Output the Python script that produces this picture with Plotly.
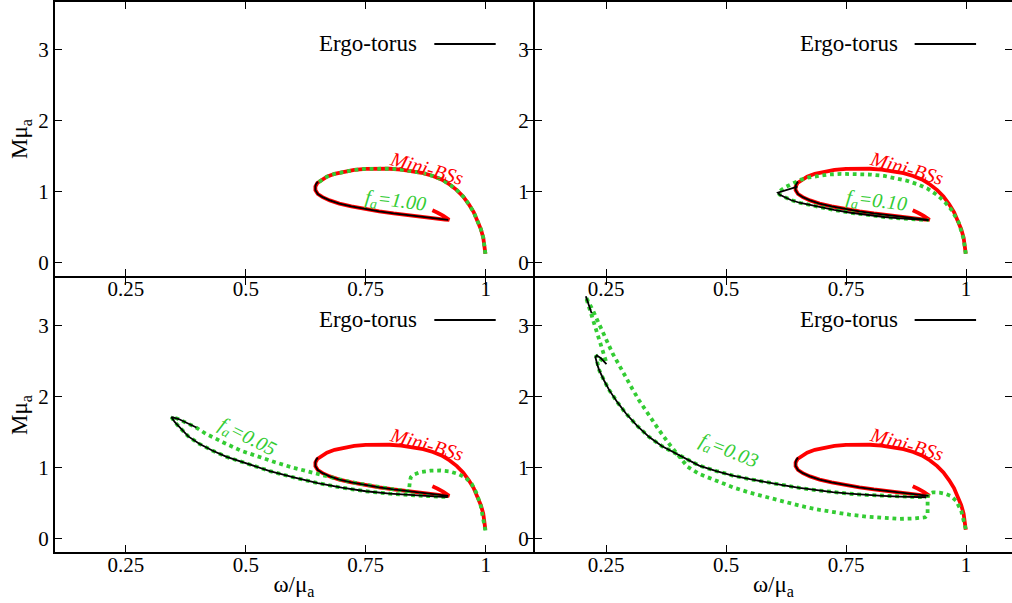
import plotly.graph_objects as go

# ---------------- data ----------------
# Mini boson star branch (same in every panel)
mini_w = [0.9995, 0.998, 0.995, 0.990, 0.983, 0.975, 0.965, 0.953, 0.940, 0.925, 0.908, 0.890,
          0.870, 0.848, 0.824, 0.800, 0.775, 0.750, 0.726, 0.704, 0.685, 0.669, 0.657, 0.649,
          0.645, 0.645, 0.650, 0.660, 0.675, 0.695, 0.720, 0.748, 0.778, 0.808, 0.838, 0.868,
          0.896, 0.915, 0.924, 0.921, 0.912, 0.900, 0.889]
mini_M = [0.12, 0.24, 0.35, 0.47, 0.60, 0.71, 0.82, 0.93, 1.02, 1.10, 1.17, 1.22,
          1.26, 1.29, 1.31, 1.322, 1.326, 1.321, 1.305, 1.28, 1.25, 1.21, 1.165, 1.12,
          1.07, 1.02, 0.965, 0.92, 0.875, 0.83, 0.79, 0.752, 0.72, 0.69, 0.663, 0.638,
          0.617, 0.603, 0.600, 0.618, 0.655, 0.70, 0.735]

# Ergo-torus part of the mini-BS branch
mini_ergo_w = [0.650, 0.646, 0.645, 0.645, 0.650, 0.660, 0.675, 0.695, 0.720, 0.748, 0.778,
               0.808, 0.838, 0.868, 0.896, 0.915, 0.922]
mini_ergo_M = [1.14, 1.10, 1.07, 1.02, 0.965, 0.92, 0.875, 0.83, 0.79, 0.752, 0.72,
               0.69, 0.663, 0.638, 0.617, 0.603, 0.598]

# Axion boson stars, f_a = 1.00
fa100_w = [0.9995, 0.998, 0.995, 0.990, 0.983, 0.975, 0.965, 0.953, 0.940, 0.925, 0.908, 0.890,
           0.870, 0.848, 0.824, 0.800, 0.775, 0.750, 0.726, 0.704, 0.685, 0.669, 0.657, 0.649]
fa100_M = [0.12, 0.24, 0.35, 0.47, 0.60, 0.71, 0.82, 0.93, 1.02, 1.10, 1.17, 1.22,
           1.26, 1.29, 1.31, 1.322, 1.326, 1.321, 1.305, 1.28, 1.25, 1.21, 1.165, 1.12]
ergo100_w = []
ergo100_M = []

# f_a = 0.10
fa010_w = [0.9995, 0.995, 0.985, 0.970, 0.955, 0.940, 0.920, 0.900, 0.878, 0.855, 0.830, 0.800,
           0.770, 0.740, 0.712, 0.690, 0.670, 0.655, 0.640, 0.626, 0.615, 0.608, 0.612, 0.620,
           0.635, 0.655, 0.690, 0.725, 0.760, 0.794, 0.830, 0.863, 0.895, 0.922]
fa010_M = [0.12, 0.33, 0.56, 0.74, 0.86, 0.95, 1.04, 1.10, 1.15, 1.19, 1.22, 1.24,
           1.25, 1.25, 1.24, 1.22, 1.195, 1.165, 1.12, 1.07, 1.02, 0.985, 0.955, 0.925,
           0.88, 0.838, 0.785, 0.74, 0.70, 0.668, 0.64, 0.62, 0.605, 0.595]
ergo010_w = [0.649, 0.630, 0.608, 0.612, 0.620, 0.635, 0.655, 0.690, 0.725, 0.760, 0.794,
             0.830, 0.863, 0.895, 0.922]
ergo010_M = [1.068, 1.03, 0.985, 0.955, 0.925, 0.88, 0.838, 0.785, 0.74, 0.70, 0.668,
             0.64, 0.62, 0.605, 0.595]

# f_a = 0.05
fa005_w = [0.9995, 0.995, 0.989, 0.980, 0.971, 0.958, 0.942, 0.925, 0.906, 0.885, 0.863, 0.850,
           0.844, 0.842, 0.841, 0.840, 0.810, 0.777, 0.741, 0.705, 0.669, 0.633, 0.597, 0.561,
           0.525, 0.489, 0.453, 0.417, 0.395, 0.375, 0.358, 0.347, 0.345, 0.352, 0.365, 0.380,
           0.403, 0.430, 0.460, 0.503, 0.550, 0.600, 0.650, 0.700, 0.750, 0.800, 0.850, 0.900,
           0.921]
fa005_M = [0.11, 0.30, 0.486, 0.65, 0.77, 0.86, 0.91, 0.945, 0.958, 0.955, 0.934, 0.90,
           0.863, 0.80, 0.73, 0.665, 0.69, 0.722, 0.768, 0.816, 0.873, 0.934, 1.00, 1.075,
           1.155, 1.24, 1.355, 1.476, 1.57, 1.64, 1.69, 1.71, 1.712, 1.64, 1.54, 1.44,
           1.335, 1.24, 1.15, 1.05, 0.95, 0.86, 0.78, 0.715, 0.665, 0.63, 0.605, 0.588,
           0.583]
ergo005_w = [0.397, 0.380, 0.360, 0.348, 0.345, 0.352, 0.365, 0.380, 0.403, 0.430, 0.460,
             0.503, 0.550, 0.600, 0.650, 0.700, 0.750, 0.800, 0.850, 0.900, 0.921]
ergo005_M = [1.565, 1.625, 1.685, 1.71, 1.712, 1.64, 1.54, 1.44, 1.335, 1.24, 1.15,
             1.05, 0.95, 0.86, 0.78, 0.715, 0.665, 0.63, 0.605, 0.588, 0.583]

# f_a = 0.03
fa003_w = [0.9995, 0.995, 0.990, 0.979, 0.968, 0.958, 0.945, 0.931, 0.922, 0.920, 0.920, 0.920,
           0.915, 0.890, 0.861, 0.826, 0.792, 0.757, 0.722, 0.688, 0.653, 0.618, 0.583, 0.549,
           0.514, 0.479, 0.444, 0.420, 0.403, 0.382, 0.361, 0.340, 0.319, 0.305, 0.292, 0.278,
           0.264, 0.250, 0.236, 0.222, 0.208, 0.213, 0.226, 0.238, 0.250, 0.245, 0.229, 0.232,
           0.236, 0.246, 0.257, 0.274, 0.292, 0.315, 0.340, 0.367, 0.396, 0.420, 0.444, 0.480,
           0.514, 0.550, 0.583, 0.618, 0.653, 0.688, 0.722, 0.757, 0.792, 0.826, 0.861, 0.890,
           0.917]
fa003_M = [0.13, 0.28, 0.39, 0.533, 0.60, 0.627, 0.645, 0.65, 0.63, 0.58, 0.45, 0.33,
           0.297, 0.28, 0.274, 0.285, 0.307, 0.335, 0.368, 0.41, 0.462, 0.52, 0.58, 0.645,
           0.722, 0.81, 0.91, 1.01, 1.146, 1.33, 1.524, 1.73, 1.948, 2.11, 2.278, 2.44,
           2.608, 2.82, 3.033, 3.23, 3.41, 3.30, 3.05, 2.78, 2.50, 2.50, 2.585, 2.48,
           2.373, 2.23, 2.09, 1.92, 1.76, 1.59, 1.43, 1.30, 1.193, 1.11, 1.028, 0.95,
           0.887, 0.835, 0.792, 0.75, 0.712, 0.68, 0.651, 0.63, 0.613, 0.60, 0.59, 0.585,
           0.58]
ergo003_w = [0.208, 0.214, 0.220, None, 0.251, 0.240, 0.231, 0.228, 0.232, 0.236, 0.246,
             0.257, 0.274, 0.292, 0.315, 0.340, 0.367, 0.396, 0.420, 0.444, 0.480, 0.514,
             0.550, 0.583, 0.618, 0.653, 0.688, 0.722, 0.757, 0.792, 0.826, 0.861, 0.890,
             0.917]
ergo003_M = [3.42, 3.30, 3.18, None, 2.46, 2.54, 2.585, 2.56, 2.45, 2.373, 2.23,
             2.09, 1.92, 1.76, 1.59, 1.43, 1.30, 1.193, 1.11, 1.028, 0.95, 0.887,
             0.835, 0.792, 0.75, 0.712, 0.68, 0.651, 0.63, 0.613, 0.60, 0.59, 0.585,
             0.58]

panel_labels = ["1.00", "0.10", "0.05", "0.03"]
axion_w = [fa100_w, fa010_w, fa005_w, fa003_w]
axion_M = [fa100_M, fa010_M, fa005_M, fa003_M]
ergo_w = [ergo100_w, ergo010_w, ergo005_w, ergo003_w]
ergo_M = [ergo100_M, ergo010_M, ergo005_M, ergo003_M]
# label anchor (omega, M) and angle for each f_a label
fa_label_pos = [(0.813, 0.86, 7), (0.813, 0.86, 7), (0.503, 1.43, 27), (0.506, 1.22, 22)]

x_ticks = [0.25, 0.5, 0.75, 1]
x_ticktext = ["0.25", "0.5", "0.75", "1"]
y_ticks = [0, 1, 2, 3]

# ---------------- figure ----------------
RED = "#ff0000"
GREEN = "#33cc33"
W, H = 1012, 603
SERIF = "Liberation Serif"
LW = 2  # frame line width (integer -> crisp, coinciding shared borders)

fig = go.Figure()

for i in range(4):
    xa = "x" if i == 0 else f"x{i+1}"
    ya = "y" if i == 0 else f"y{i+1}"
    fig.add_trace(go.Scatter(x=mini_w, y=mini_M, mode="lines", xaxis=xa, yaxis=ya,
                             line=dict(color=RED, width=3.8), showlegend=False, hoverinfo="skip"))
    fig.add_trace(go.Scatter(x=axion_w[i], y=axion_M[i], mode="lines", xaxis=xa, yaxis=ya,
                             line=dict(color=GREEN, width=3.8, dash="dot"),
                             showlegend=False, hoverinfo="skip"))
    fig.add_trace(go.Scatter(x=mini_ergo_w, y=mini_ergo_M, mode="lines", xaxis=xa, yaxis=ya,
                             line=dict(color="black", width=1.8), showlegend=False, hoverinfo="skip"))
    if ergo_w[i]:
        fig.add_trace(go.Scatter(x=ergo_w[i], y=ergo_M[i], mode="lines", xaxis=xa, yaxis=ya,
                                 line=dict(color="black", width=1.8), connectgaps=False,
                                 showlegend=False, hoverinfo="skip"))

# panel geometry in pixels: frame-line centres at x = 54, 534 ; y = 1, 277, 553
h = LW / 2
left_px = (54 + h, 534 - h)
right_px = (534 + h, W)
top_px = (1 + h, 277 - h)
bot_px = (277 + h, 553 - h)


def xdom(p):
    return [p[0] / W, p[1] / W]


def ydom(p):
    return [1 - p[1] / H, 1 - p[0] / H]


# pixel scales (from the tick marks of the reference)
def xrange_for(p, x0_px, ppu):
    return [0.1 + (p[0] - x0_px) / ppu, 0.1 + (p[1] - x0_px) / ppu]


def yrange_for(p, zero_px, ppu):
    return [(zero_px - p[1]) / ppu, (zero_px - p[0]) / ppu]


panels = [
    (left_px, top_px, xrange_for(left_px, 54, 479.6), yrange_for(top_px, 262.3, 70.77)),
    (right_px, top_px, xrange_for(right_px, 534, 480.0), yrange_for(top_px, 262.3, 70.77)),
    (left_px, bot_px, xrange_for(left_px, 54, 479.6), yrange_for(bot_px, 538.3, 70.77)),
    (right_px, bot_px, xrange_for(right_px, 534, 480.0), yrange_for(bot_px, 538.3, 70.77)),
]

axis_common = dict(showline=True, linecolor="black", linewidth=LW, mirror="ticks",
                   ticks="inside", ticklen=7, tickwidth=1.2, tickcolor="black",
                   showgrid=False, zeroline=False, automargin=False,
                   tickfont=dict(family=SERIF, size=21, color="black"))

title_font = dict(family=SERIF, size=23, color="black")

layout = dict(width=W, height=H, margin=dict(l=0, r=0, t=0, b=0, pad=0),
              paper_bgcolor="white", plot_bgcolor="white", showlegend=False)

for i, (px_x, px_y, xr, yr) in enumerate(panels):
    xk = "xaxis" if i == 0 else f"xaxis{i+1}"
    yk = "yaxis" if i == 0 else f"yaxis{i+1}"
    xa = dict(axis_common, domain=xdom(px_x), range=xr, tickvals=x_ticks, ticktext=x_ticktext,
              anchor="y" if i == 0 else f"y{i+1}", ticklabelstandoff=-7)
    ya = dict(axis_common, domain=ydom(px_y), range=yr, tickvals=y_ticks,
              anchor="x" if i == 0 else f"x{i+1}")
    if i >= 2:
        xa["title"] = dict(text="ω/μ<sub>a</sub>", font=title_font, standoff=0)
    if i in (0, 2):
        ya["title"] = dict(text="Mμ<sub>a</sub>", font=title_font, standoff=4)
    layout[xk] = xa
    layout[yk] = ya

fig.update_layout(**layout)

annotations = []
shapes = []
for i in range(4):
    xr = "x" if i == 0 else f"x{i+1}"
    yr = "y" if i == 0 else f"y{i+1}"
    # legend entry
    annotations.append(dict(x=0.862, y=3.085, xref=xr, yref=yr, text="Ergo-torus",
                            showarrow=False, xanchor="right", yanchor="middle",
                            font=dict(family=SERIF, size=23, color="black")))
    shapes.append(dict(type="line", xref=xr, yref=yr, x0=0.893, x1=1.021, y0=3.085, y1=3.085,
                       line=dict(color="black", width=2)))
    # Mini-BSs label
    annotations.append(dict(x=0.877, y=1.33, xref=xr, yref=yr, text="<i>Mini-BSs</i>",
                            showarrow=False, textangle=16,
                            font=dict(family=SERIF, size=20, color=RED)))
    lx, ly, ang = fa_label_pos[i]
    annotations.append(dict(x=lx, y=ly, xref=xr, yref=yr,
                            text=f"<i>f<sub>a</sub>={panel_labels[i]}</i>",
                            showarrow=False, textangle=ang,
                            font=dict(family=SERIF, size=20, color=GREEN)))

fig.update_layout(annotations=annotations, shapes=shapes)
fig.write_html("out.html", config={"displayModeBar": False},
               post_script="document.body.style.margin='0px';document.body.style.overflow='hidden';")
